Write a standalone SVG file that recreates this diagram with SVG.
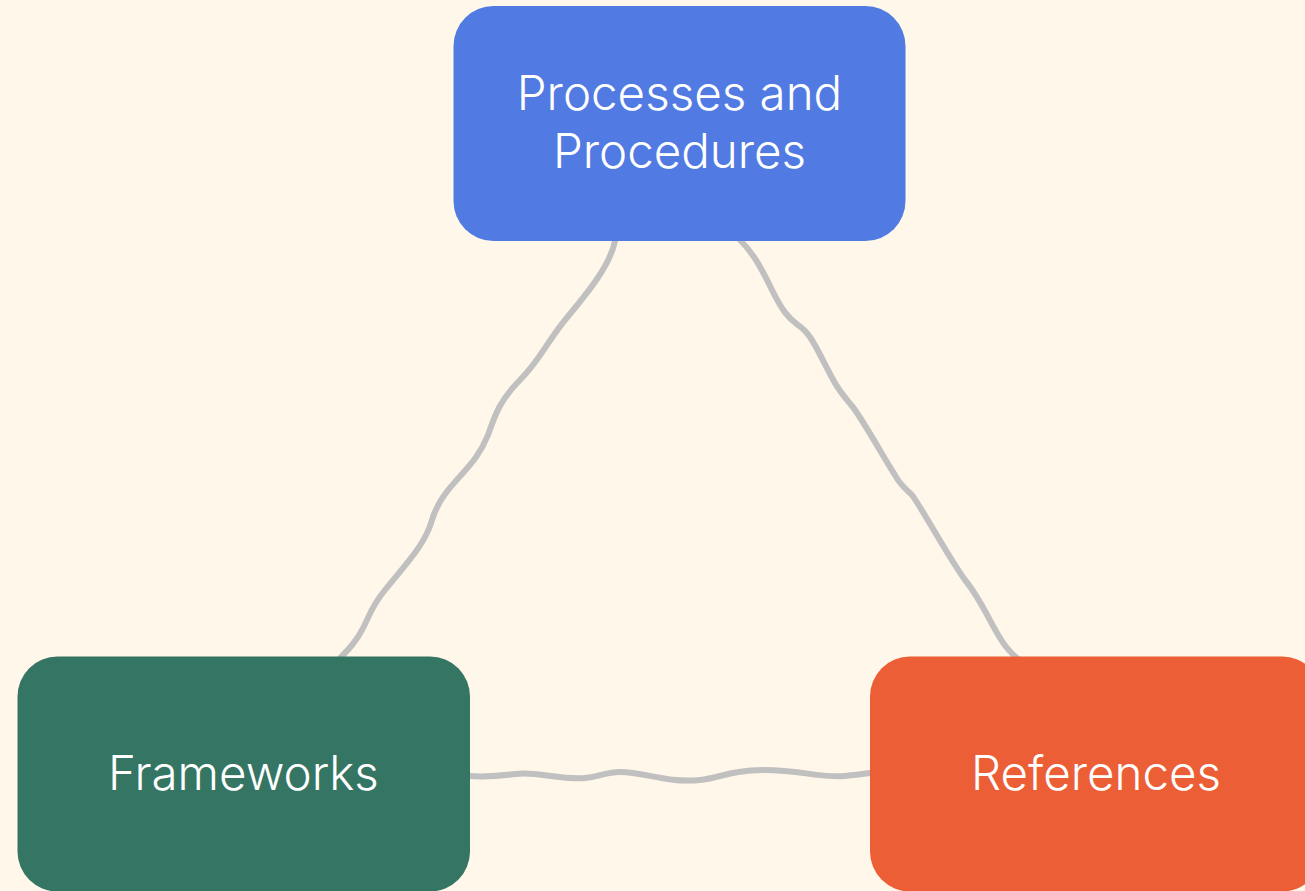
<svg xmlns="http://www.w3.org/2000/svg" width="1305" height="891" viewBox="0 0 1305 891">
  <style>
    .bg { fill: #FFF7E9; }
    .link { fill: none; stroke: #C0C0C0; stroke-width: 6; stroke-linecap: round; stroke-linejoin: round; }
    .box { stroke: none; }
    .label { font-family: "Inter", "Noto Sans", "Liberation Sans", sans-serif; font-weight: 300; font-size: 47.5px; fill: #FFFFFF; text-anchor: middle; }
  </style>
  <rect class="bg" x="0" y="0" width="1305" height="891"/>

  <!-- wavy hand-drawn links between the three boxes -->
  <g id="connectors">
    <path class="link" d="M 615 241 C 610 265, 590 290, 565 320 C 545 345, 540 360, 520 380 C 500 400, 495 415, 488 435 C 480 455, 470 465, 455 482 C 440 498, 435 510, 432 520 C 425 545, 405 565, 385 590 C 370 608, 368 620, 362 630 C 356 642, 348 650, 340 658"/>
    <path class="link" d="M 740 240 C 752 252, 760 265, 772 290 C 782 310, 788 318, 798 325 C 810 333, 815 345, 828 370 C 838 390, 843 395, 852 406 C 862 418, 885 460, 895 475 C 900 485, 905 488, 912 495 C 920 505, 950 560, 965 580 C 980 598, 990 622, 1000 638 C 1006 648, 1012 654, 1018 659"/>
    <path class="link" d="M 469 776 C 485 777, 500 776, 515 774 C 535 771, 560 780, 585 778 C 600 777, 605 772, 620 772 C 645 772, 665 783, 700 780 C 720 778, 730 770, 765 770 C 800 770, 820 778, 845 776 C 855 775, 862 774, 870 773"/>
  </g>

  <g id="node-processes">
    <rect class="box" x="453.5" y="6" width="452" height="235" rx="40" fill="#517BE2"/>
    <text class="label" x="679.5" y="110">Processes and</text>
    <text class="label" x="679.5" y="168">Procedures</text>
  </g>

  <g id="node-frameworks">
    <rect class="box" x="17.5" y="656.5" width="452.5" height="235" rx="40" fill="#357563"/>
    <text class="label" x="243.5" y="790">Frameworks</text>
  </g>

  <g id="node-references">
    <rect class="box" x="870" y="656.5" width="452" height="235" rx="40" fill="#EC5E35"/>
    <text class="label" x="1096" y="790">References</text>
  </g>
</svg>
